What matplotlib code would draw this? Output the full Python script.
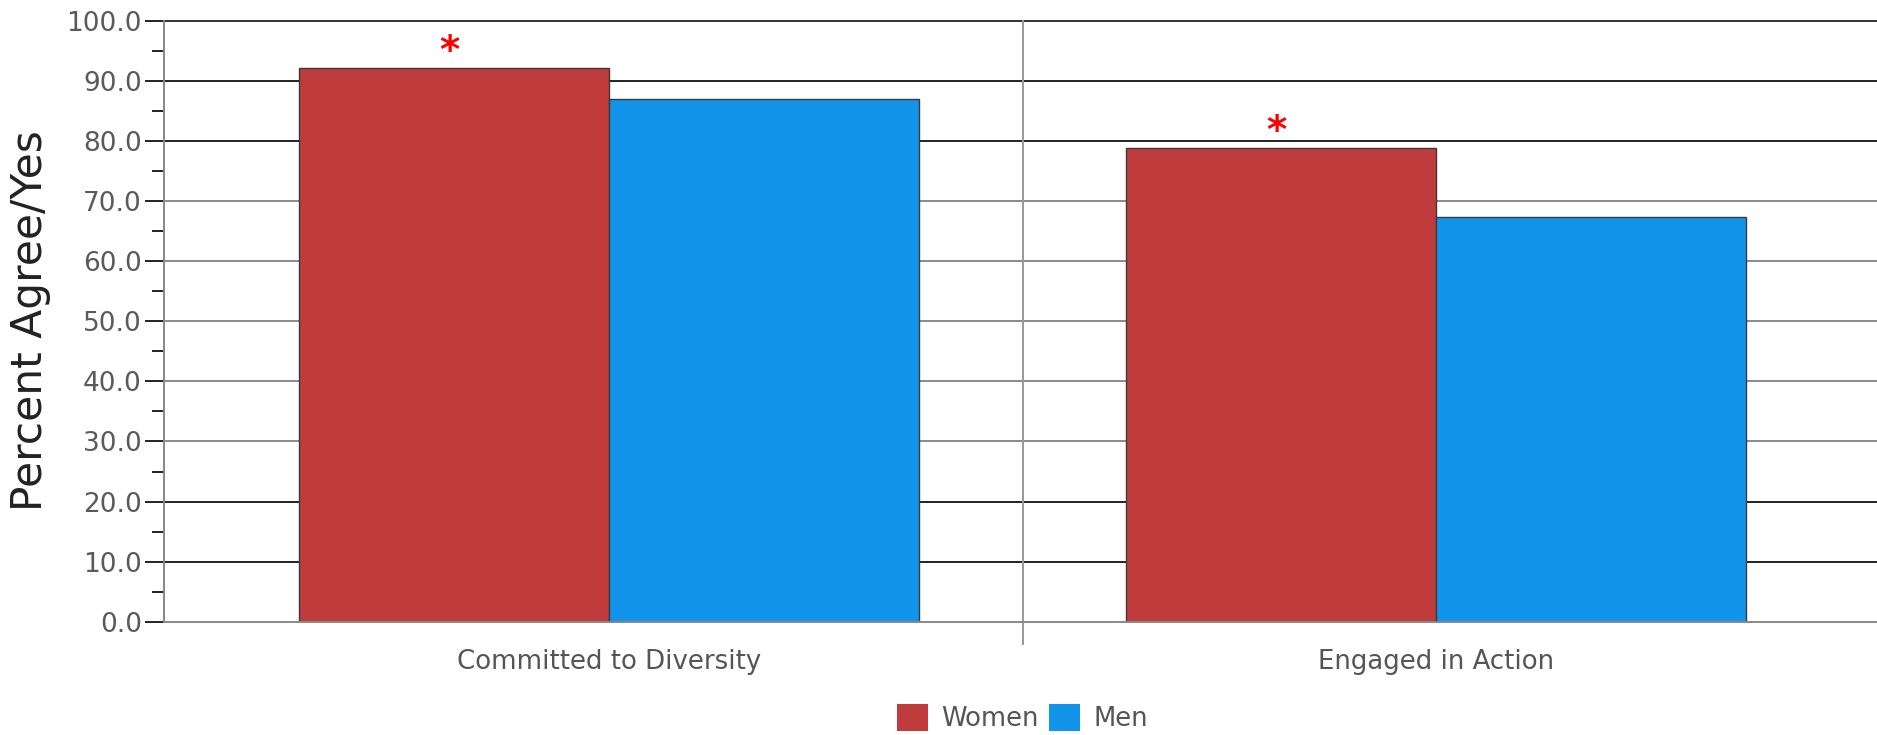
import matplotlib
matplotlib.use("Agg")
import matplotlib.pyplot as plt
import numpy as np
from matplotlib.ticker import MultipleLocator, FormatStrFormatter

categories = ["Committed to Diversity", "Engaged in Action"]
series_names = ["Women", "Men"]
women = [92.2, 78.9]
men = [87.0, 67.4]
women_sig = [True, True]
men_sig = [False, False]

colors = ["#C03B3C", "#1294EB"]
grid_vals = [10, 20, 30, 40, 50, 60, 70, 80, 90, 100]
grid_cols = ["#222222", "#222222", "#8a8a8a", "#8a8a8a", "#8a8a8a", "#8a8a8a", "#8a8a8a", "#222222", "#222222", "#333333"]

W, H = 1877, 735
fig = plt.figure(figsize=(W / 100, H / 100), dpi=100)
ax = fig.add_axes([164 / W, (H - 621.7) / H, 1 - 164 / W, (621.7 - 21) / H])

x = np.arange(len(categories))
bw = 0.375
for gv, gc in zip(grid_vals, grid_cols):
    ax.axhline(gv, color=gc, lw=1.4, zorder=1, clip_on=False)

b1 = ax.bar(x - bw / 2, women, bw, color=colors[0], edgecolor="#3a3a3a", lw=1.0, zorder=3, label=series_names[0])
b2 = ax.bar(x + bw / 2, men, bw, color=colors[1], edgecolor="#3a3a3a", lw=1.0, zorder=3, label=series_names[1])

for i, (v, s) in enumerate(zip(women, women_sig)):
    if s:
        ax.annotate("*", (x[i] - bw / 2, v), xytext=(-3, -2.5), textcoords="offset points",
                    ha="center", va="bottom", color="red", fontsize=28, fontweight="bold", zorder=5)
for i, (v, s) in enumerate(zip(men, men_sig)):
    if s:
        ax.annotate("*", (x[i] + bw / 2, v), xytext=(-3, -2.5), textcoords="offset points",
                    ha="center", va="bottom", color="red", fontsize=28, fontweight="bold", zorder=5)

# category separator
ax.plot([0.5, 0.5], [100, -3.7], color="#999999", lw=1.4, clip_on=False, zorder=2)

ax.set_xlim(-0.538, 1.533)
ax.set_ylim(0, 100)
ax.yaxis.set_major_locator(MultipleLocator(10))
ax.yaxis.set_minor_locator(MultipleLocator(5))
ax.yaxis.set_major_formatter(FormatStrFormatter("%.1f"))
ax.tick_params(axis="y", which="major", length=14, width=1.4, color="#222222",
               labelsize=19, labelcolor="#5a5a5a", pad=2)
ax.tick_params(axis="y", which="minor", length=8.5, width=1.4, color="#222222")
ax.set_xticks(x)
ax.set_xticklabels(categories)
ax.tick_params(axis="x", length=0, labelsize=18.7, labelcolor="#555555", pad=20)

for s in ["top", "right"]:
    ax.spines[s].set_visible(False)
ax.spines["left"].set_color("#888888")
ax.spines["bottom"].set_color("#888888")
ax.spines["left"].set_linewidth(1.4)
ax.spines["bottom"].set_linewidth(1.4)
ax.spines["bottom"].set_zorder(4)

fig.text(30 / W, 1 - 321 / H, "Percent Agree/Yes", rotation=90, ha="center", va="center",
         fontsize=30.5, color="#222222")

fig.legend(handles=[b1, b2], labels=series_names, loc="center",
           bbox_to_anchor=(1022.5 / W, 17 / H), ncol=2, frameon=False,
           fontsize=18.6, labelcolor="#555555", handlelength=1.2, handleheight=1.2,
           handletextpad=0.5, columnspacing=0.4, borderpad=0)
for h in fig.legends[0].legend_handles:
    h.set_edgecolor("none")

fig.savefig("out.png", dpi=100)
